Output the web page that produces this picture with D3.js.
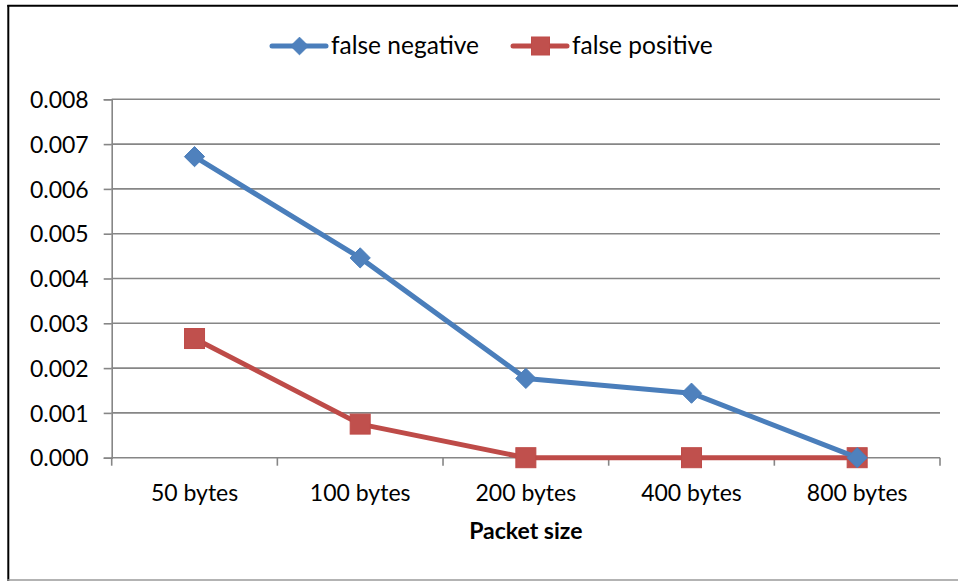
<!DOCTYPE html>
<html>
<head>
<meta charset="utf-8">
<script src="https://cdn.jsdelivr.net/npm/d3@7/dist/d3.min.js"></script>
<style>
  html, body { margin: 0; padding: 0; background: #fff; }
  svg { display: block; }
  text { font-family: Lato, "Open Sans", "DejaVu Sans", sans-serif; fill: #000; }
</style>
</head>
<body>
<svg id="chart" width="958" height="581"></svg>
<script>
// Packet sizes tested and the error rates measured for each
const categories = ["50 bytes", "100 bytes", "200 bytes", "400 bytes", "800 bytes"];
const falseNegative = [0.00672, 0.00446, 0.00177, 0.00144, 0.0];
const falsePositive = [0.00266, 0.00075, 0.0, 0.0, 0.0];
const yTicks = [0, 0.001, 0.002, 0.003, 0.004, 0.005, 0.006, 0.007, 0.008];
const seriesNames = ["false negative", "false positive"];
const xTitle = "Packet size";

const W = 958, H = 581;
const plot = { left: 111.7, right: 940, top: 99.3, bottom: 457.7 };
const blue = "#4A7EBB", blueFill = "#4F81BD";
const red = "#BE4B48", redFill = "#C0504D";
const gridColor = "#868686";

const svg = d3.select("#chart");

// Outer frame
svg.append("line").attr("x1", 8.3).attr("x2", 8.3).attr("y1", 5).attr("y2", 581)
  .attr("stroke", "#000").attr("stroke-width", 2);
svg.append("line").attr("x1", 7.3).attr("x2", W).attr("y1", 5.7).attr("y2", 5.7)
  .attr("stroke", "#000").attr("stroke-width", 2);
svg.append("line").attr("x1", 7.3).attr("x2", W).attr("y1", 580).attr("y2", 580)
  .attr("stroke", "#9a9a9a").attr("stroke-width", 1.5);

const x = d3.scaleBand().domain(categories).range([plot.left, plot.right]).padding(0);
const y = d3.scaleLinear().domain([0, 0.008]).range([plot.bottom, plot.top]);

// Horizontal gridlines
svg.append("g").selectAll("line").data(yTicks.slice(1)).join("line")
  .attr("x1", plot.left).attr("x2", plot.right)
  .attr("y1", d => y(d)).attr("y2", d => y(d))
  .attr("stroke", gridColor).attr("stroke-width", 1.6);

// Y axis
const yAxis = svg.append("g").attr("transform", `translate(${plot.left},0)`)
  .call(d3.axisLeft(y).tickValues(yTicks).tickFormat(d3.format(".3f")).tickSize(8).tickPadding(15));
yAxis.select(".domain").attr("stroke", gridColor).attr("stroke-width", 1.6);
yAxis.selectAll(".tick line").attr("stroke", gridColor).attr("stroke-width", 1.6);
yAxis.selectAll(".tick text").attr("font-size", 23).attr("fill", "#000")
  .attr("font-family", "Lato, 'Open Sans', sans-serif").attr("dy", "0.36em");

// X axis with ticks at category boundaries
const xAxisG = svg.append("g").attr("transform", `translate(0,${plot.bottom})`);
xAxisG.append("line").attr("x1", plot.left).attr("x2", plot.right)
  .attr("stroke", gridColor).attr("stroke-width", 1.6);
const boundaries = categories.map(c => x(c)).concat([x(categories[categories.length - 1]) + x.bandwidth()]);
xAxisG.selectAll("line.tk").data(boundaries).join("line").attr("class", "tk")
  .attr("x1", d => d).attr("x2", d => d).attr("y1", 0).attr("y2", 8)
  .attr("stroke", gridColor).attr("stroke-width", 1.6);
xAxisG.selectAll("text").data(categories).join("text")
  .attr("x", d => x(d) + x.bandwidth() / 2).attr("y", 43.5)
  .attr("text-anchor", "middle").attr("font-size", 23).text(d => d);

// Axis title
svg.append("text").attr("x", (plot.left + plot.right) / 2).attr("y", 539)
  .attr("text-anchor", "middle").attr("font-size", 23).attr("font-weight", "bold").text(xTitle);

const cx = d => x(d) + x.bandwidth() / 2;
const line = d3.line().x(d => cx(d.c)).y(d => y(d.v));

const fpData = categories.map((c, i) => ({ c, v: falsePositive[i] }));
const fnData = categories.map((c, i) => ({ c, v: falseNegative[i] }));

// false positive series
svg.append("path").datum(fpData).attr("d", line).attr("fill", "none")
  .attr("stroke", red).attr("stroke-width", 5).attr("stroke-linejoin", "round");
svg.append("g").selectAll("rect").data(fpData).join("rect")
  .attr("x", d => cx(d.c) - 10).attr("y", d => y(d.v) - 10)
  .attr("width", 20).attr("height", 20)
  .attr("fill", redFill).attr("stroke", red).attr("stroke-width", 1);

// false negative series
svg.append("path").datum(fnData).attr("d", line).attr("fill", "none")
  .attr("stroke", blue).attr("stroke-width", 5).attr("stroke-linejoin", "round");
const diamond = d3.symbol().type(d3.symbolDiamond2).size(260);
svg.append("g").selectAll("path").data(fnData).join("path")
  .attr("d", diamond).attr("transform", d => `translate(${cx(d.c)},${y(d.v)})`)
  .attr("fill", blueFill).attr("stroke", blue).attr("stroke-width", 1);

// Legend
const legend = svg.append("g");
const legendItems = [
  { name: seriesNames[0], x0: 272, color: blue, fill: blueFill, shape: "diamond" },
  { name: seriesNames[1], x0: 513, color: red, fill: redFill, shape: "square" }
];
legendItems.forEach(it => {
  const g = legend.append("g");
  g.append("line").attr("x1", it.x0).attr("x2", it.x0 + 54).attr("y1", 46).attr("y2", 46)
    .attr("stroke", it.color).attr("stroke-width", 5).attr("stroke-linecap", "round");
  const mx = it.x0 + 27.5;
  if (it.shape === "diamond") {
    g.append("path").attr("d", d3.symbol().type(d3.symbolDiamond2).size(200))
      .attr("transform", `translate(${mx},46)`).attr("fill", it.fill).attr("stroke", it.color);
  } else {
    g.append("rect").attr("x", mx - 9).attr("y", 37).attr("width", 18).attr("height", 18)
      .attr("fill", it.fill).attr("stroke", it.color);
  }
  g.append("text").attr("x", it.x0 + 59).attr("y", 54).attr("font-size", 24.5).text(it.name);
});
</script>
</body>
</html>
